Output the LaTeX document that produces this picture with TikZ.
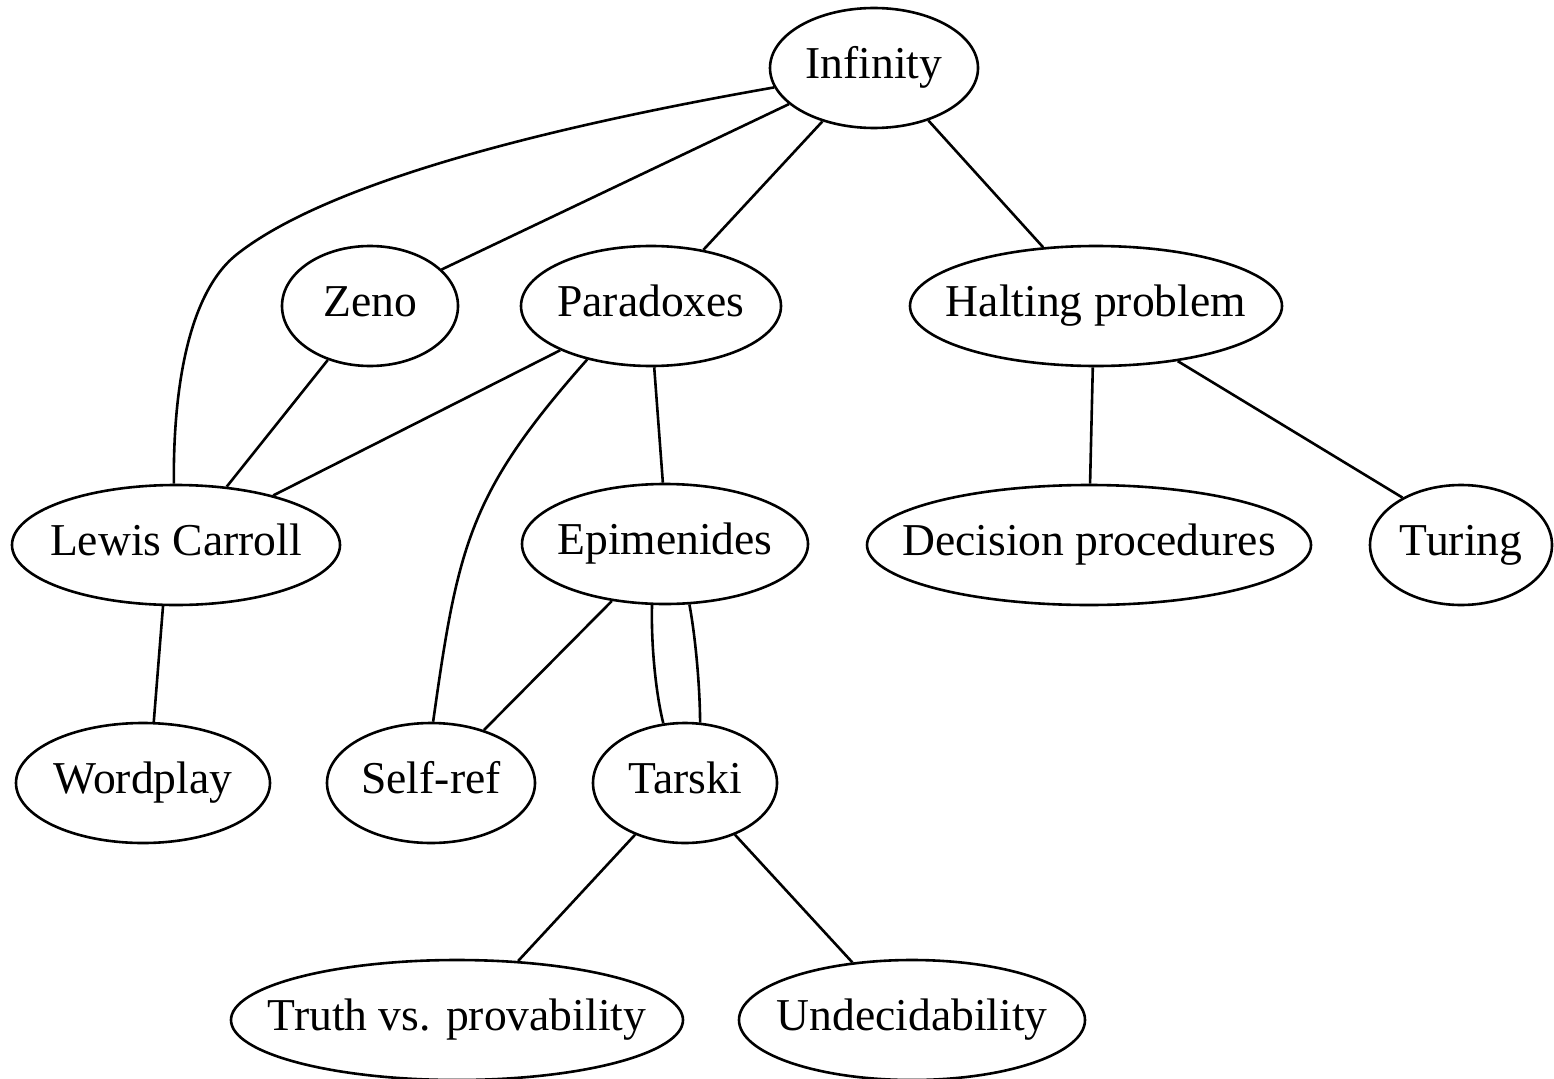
\documentclass[tikz,border=0pt]{standalone}
\usepackage{fontspec}
\setmainfont{Liberation Serif}
\usetikzlibrary{shapes.geometric}
\newcommand\tx[1]{\makebox[0pt]{#1}}
\begin{document}
\begin{tikzpicture}[x=1pt,y=-1pt,
  el/.style={ellipse, draw, line width=2.6pt, inner sep=0pt, minimum height=120pt,
    text height=31pt, text depth=10pt, font=\fontsize{45.6pt}{50pt}\selectfont},
  edge/.style={line width=2.6pt}]
\useasboundingbox (0,0) rectangle (1554,1078);
% row 1
\node[el, minimum width=208pt] (inf) at (874,68) {\tx{Infinity}};
% row 2
\node[el, minimum width=176pt] (zeno) at (370,306) {\tx{Zeno}};
\node[el, minimum width=260pt] (par) at (651,306) {\tx{Paradoxes}};
\node[el, minimum width=372pt] (halt) at (1096,306) {\tx{Halting problem}};
% row 3
\node[el, minimum width=328pt] (lc) at (176,545) {\tx{Lewis Carroll}};
\node[el, minimum width=286pt] (epi) at (665,544) {\tx{Epimenides}};
\node[el, minimum width=444pt] (dec) at (1089,545) {\tx{Decision procedures}};
\node[el, minimum width=182pt] (tur) at (1461,545) {\tx{Turing}};
% row 4
\node[el, minimum width=254pt] (word) at (143,783) {\tx{Wordplay}};
\node[el, minimum width=208pt] (self) at (431,783) {\tx{Self-ref}};
\node[el, minimum width=184pt] (tar) at (685,783) {\tx{Tarski}};
% row 5
\node[el, minimum width=452pt] (tru) at (457,1020) {\tx{Truth vs. provability}};
\node[el, minimum width=346pt] (und) at (912,1020) {\tx{Undecidability}};
% edges
\coordinate (bend) at (236,255);
\draw[edge] (inf.191.8) .. controls (560,125) and (330,180) .. (bend)
  .. controls (188,294) and (173,390) .. (lc.92);
\draw[edge] (inf.203.8) -- (zeno.27.7);
\draw[edge] (inf.226.7) -- (par.47);
\draw[edge] (inf.316) -- (halt.132);
\draw[edge] (zeno.232.5) -- (lc.49.8);
\draw[edge] (par.206.8) -- (lc.27.5);
\draw[edge] (par.220.6) .. controls (469,493) and (458,545) .. (self.88);
\draw[edge] (par.273.7) -- (epi.92.3);
\draw[edge] (halt.267) -- (dec.89);
\draw[edge] (halt.326.3) -- (tur.141.8);
\draw[edge] (lc.258.7) -- (word.80);
\draw[edge] (epi.227.6) -- (self.45.5);
\draw[edge] (epi.258) .. controls (651,640) and (655,690) .. (tar.110);
\draw[edge] (epi.292.3) .. controls (696,640) and (700,690) .. (tar.76.9);
\draw[edge] (tar.226) -- (tru.44.5);
\draw[edge] (tar.314.4) -- (und.136);
\end{tikzpicture}
\end{document}
